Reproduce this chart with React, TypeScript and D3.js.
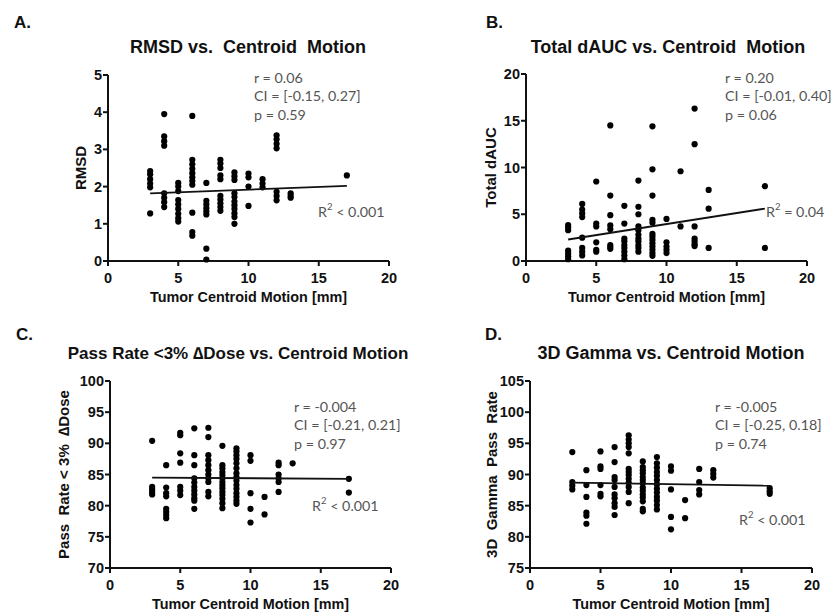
import React from "react";
import * as d3 from "d3";

// ---------- DATA ----------
const motionMm = [3, 4, 5, 6, 7, 8, 9, 10, 11, 12, 13, 17];
const xTicks = [0, 5, 10, 15, 20];

const rmsdValues: number[][] = [
  [2.42, 2.33, 2.2, 2.08, 1.98, 1.28],
  [3.95, 3.35, 3.22, 3.1, 1.82, 1.7, 1.58, 1.45],
  [2.1, 2.0, 1.88, 1.64, 1.52, 1.4, 1.27, 1.15, 1.06],
  [3.9, 2.72, 2.6, 2.48, 2.36, 2.25, 2.15, 2.05, 1.3, 0.78, 0.68],
  [2.1, 1.62, 1.52, 1.42, 1.33, 1.25, 0.33, 0.04],
  [2.72, 2.62, 2.5, 2.3, 2.2, 1.75, 1.65, 1.55, 1.45, 1.35],
  [2.38, 2.28, 2.18, 1.82, 1.72, 1.6, 1.5, 1.4, 1.28, 1.18, 1.0],
  [2.35, 2.25, 2.0, 1.48],
  [2.2, 2.08, 1.98],
  [3.38, 3.27, 3.15, 3.03, 1.86, 1.75, 1.63],
  [1.82, 1.75, 1.7],
  [2.3],
];
const rmsdTicks = [0, 1, 2, 3, 4, 5];
const rmsdFit = [1.82, 2.02];
const rmsdStats = ["r = 0.06", "CI = [-0.15, 0.27]", "p = 0.59"];

const dAucValues: number[][] = [
  [3.85, 3.6, 3.3, 1.1, 0.8, 0.5, 0.2],
  [6.1, 5.5, 5.1, 4.7, 2.5, 1.4, 1.0, 0.6],
  [8.5, 4.0, 3.7, 2.0, 1.2, 1.0],
  [14.5, 7.0, 4.9, 3.8, 3.4, 1.7, 1.5, 1.3],
  [5.9, 4.0, 2.4, 2.1, 1.7, 1.4, 1.0, 0.6, 0.2],
  [8.6, 5.8, 5.0, 3.7, 3.3, 2.8, 2.4, 2.1, 1.7, 1.4, 1.0],
  [14.4, 9.8, 7.0, 4.4, 4.1, 2.9, 2.6, 2.25, 1.9, 1.55, 1.2, 0.85, 0.55],
  [4.5, 2.0, 1.55, 1.2, 0.85],
  [9.6, 3.7],
  [16.3, 12.5, 3.7, 2.4, 2.1, 1.8, 1.6],
  [7.6, 5.6, 1.4],
  [8.0, 1.4],
];
const dAucTicks = [0, 5, 10, 15, 20];
const dAucFit = [2.3, 5.6];
const dAucStats = ["r = 0.20", "CI = [-0.01, 0.40]", "p = 0.06"];

const passValues: number[][] = [
  [90.4, 83.0, 82.6, 82.2, 81.8],
  [86.5, 82.9, 82.0, 81.5, 79.5, 79.0, 78.5, 78.0],
  [91.7, 91.3, 88.4, 86.9, 83.0, 82.4, 81.7],
  [92.4, 88.1, 86.5, 84.4, 83.7, 83.0, 82.4, 81.8, 81.2, 80.8, 79.5],
  [92.5, 91.0, 88.1, 87.3, 86.5, 85.7, 85.0, 84.4, 83.8, 82.2, 81.5],
  [89.6, 86.5, 86.0, 85.4, 84.9, 84.4, 83.8, 83.3, 82.8, 82.2, 81.7, 81.1, 80.4, 79.6],
  [89.2, 88.7, 88.1, 87.5, 86.8, 86.0, 85.2, 84.6, 84.0, 83.3, 82.7, 82.0, 81.4, 80.8, 80.3],
  [88.1, 87.2, 82.0, 79.5, 77.3],
  [81.4, 78.6],
  [86.9, 86.5, 85.0, 84.4, 83.8, 82.2],
  [86.8],
  [84.3, 82.1],
];
const passTicks = [70, 75, 80, 85, 90, 95, 100];
const passFit = [84.5, 84.3];
const passStats = ["r = -0.004", "CI = [-0.21, 0.21]", "p = 0.97"];

const gammaValues: number[][] = [
  [93.6, 88.8, 88.2, 87.6],
  [90.7, 88.3, 86.4, 83.9, 83.4, 82.1],
  [93.7, 91.3, 90.9, 88.3, 86.9, 86.5],
  [94.4, 92.0, 89.6, 89.1, 88.0, 86.8, 86.2, 85.4, 84.8, 83.5],
  [96.3, 95.6, 95.0, 94.4, 93.4, 90.9, 90.4, 89.9, 89.3, 88.7, 88.0, 87.2, 85.4],
  [92.1, 91.2, 90.7, 90.2, 89.6, 89.1, 88.6, 87.9, 87.4, 86.8, 86.3, 85.7, 84.5, 84.1],
  [92.8, 91.8, 91.1, 90.4, 89.8, 89.1, 88.4, 87.7, 87.1, 86.4, 85.8, 85.1, 84.4],
  [91.3, 90.6, 87.6, 83.2, 81.2],
  [85.9, 83.0],
  [90.9, 88.8, 87.5, 86.8],
  [90.7, 90.1, 89.5],
  [87.8, 87.3, 86.9],
];
const gammaTicks = [75, 80, 85, 90, 95, 100, 105];
const gammaFit = [88.7, 88.2];
const gammaStats = ["r = -0.005", "CI = [-0.25, 0.18]", "p = 0.74"];

const fitRange = [3, 17];

// ---------- RENDERING ----------
const BOLD = "'Liberation Sans', Arial, sans-serif";
const STAT = "Lato, 'Open Sans', sans-serif";

type PanelProps = {
  letter: string;
  letterX: number;
  letterY: number;
  title: string;
  titleX: number;
  titleY: number;
  titleSize: number;
  left: number;
  right: number;
  bottom: number;
  top: number;
  yTicks: number[];
  yLabel: string;
  yLabelX: number;
  values: number[][];
  fit: number[];
  stats: string[];
  statX: number;
  statY: number;
  r2: string;
  r2X: number;
  r2Y: number;
};

function Panel(p: PanelProps) {
  const xs = d3.scaleLinear().domain([xTicks[0], xTicks[xTicks.length - 1]]).range([p.left, p.right]);
  const ys = d3.scaleLinear().domain([p.yTicks[0], p.yTicks[p.yTicks.length - 1]]).range([p.bottom, p.top]);
  const line = d3.line<[number, number]>().x((d) => xs(d[0])).y((d) => ys(d[1]));
  const fitPts: [number, number][] = [
    [fitRange[0], p.fit[0]],
    [fitRange[1], p.fit[1]],
  ];
  const midY = (p.top + p.bottom) / 2;
  const midX = (p.left + p.right) / 2;
  return (
    <g>
      <text x={p.letterX} y={p.letterY} fontFamily={BOLD} fontWeight="bold" fontSize={17} fill="#111">
        {p.letter}
      </text>
      <text
        x={p.titleX}
        y={p.titleY}
        textAnchor="middle"
        dominantBaseline="central"
        fontFamily={BOLD}
        fontWeight="bold"
        fontSize={p.titleSize}
        fill="#111"
        style={{ whiteSpace: "pre" }}
      >
        {p.title}
      </text>
      {/* axes */}
      <line x1={p.left} x2={p.left} y1={p.top} y2={p.bottom} stroke="#111" strokeWidth={2} />
      <line x1={p.left} x2={p.right} y1={p.bottom} y2={p.bottom} stroke="#111" strokeWidth={2} />
      {p.yTicks.map((t) => (
        <g key={"y" + t}>
          <line x1={p.left - 5} x2={p.left} y1={ys(t)} y2={ys(t)} stroke="#111" strokeWidth={2} />
          <text
            x={p.left - 6}
            y={ys(t)}
            textAnchor="end"
            dominantBaseline="central"
            fontFamily={BOLD}
            fontWeight="bold"
            fontSize={14.5}
            fill="#111"
          >
            {t}
          </text>
        </g>
      ))}
      {xTicks.map((t) => (
        <g key={"x" + t}>
          <line x1={xs(t)} x2={xs(t)} y1={p.bottom} y2={p.bottom + 5} stroke="#111" strokeWidth={2} />
          <text
            x={xs(t)}
            y={p.bottom + 17}
            textAnchor="middle"
            dominantBaseline="central"
            fontFamily={BOLD}
            fontWeight="bold"
            fontSize={14.5}
            fill="#111"
          >
            {t}
          </text>
        </g>
      ))}
      <text
        x={midX}
        y={p.bottom + 36}
        textAnchor="middle"
        dominantBaseline="central"
        fontFamily={BOLD}
        fontWeight="bold"
        fontSize={14.4}
        fill="#111"
      >
        Tumor Centroid Motion [mm]
      </text>
      <text
        transform={`translate(${p.yLabelX},${midY}) rotate(-90)`}
        textAnchor="middle"
        dominantBaseline="central"
        fontFamily={BOLD}
        fontWeight="bold"
        fontSize={15}
        fill="#111"
        style={{ whiteSpace: "pre" }}
      >
        {p.yLabel}
      </text>
      {/* points */}
      {motionMm.map((m, i) =>
        p.values[i].map((v, j) => <circle key={i + "-" + j} cx={xs(m)} cy={ys(v)} r={3.1} fill="#000" />)
      )}
      <path d={line(fitPts) || ""} stroke="#111" strokeWidth={1.8} fill="none" />
      {p.stats.map((s, i) => (
        <text
          key={s}
          x={p.statX}
          y={p.statY + i * 18.5}
          dominantBaseline="central"
          fontFamily={STAT}
          fontSize={14.3}
          fill="#555"
        >
          {s}
        </text>
      ))}
      <text x={p.r2X} y={p.r2Y} dominantBaseline="central" fontFamily={STAT} fontSize={14.3} fill="#555">
        R
        <tspan fontSize={9.5} dy={-5}>
          2
        </tspan>
        <tspan dy={5}>{" " + p.r2}</tspan>
      </text>
    </g>
  );
}

export default function App() {
  return (
    <svg
      width={832}
      height={616}
      style={{ position: "absolute", left: 0, top: 0, background: "#fff" }}
    >
      <rect width={832} height={616} fill="#fff" />
      <Panel
        letter="A."
        letterX={14}
        letterY={28}
        title="RMSD vs.  Centroid  Motion"
        titleX={248}
        titleY={47}
        titleSize={18}
        left={108}
        right={389}
        bottom={261}
        top={75}
        yTicks={rmsdTicks}
        yLabel="RMSD"
        yLabelX={80}
        values={rmsdValues}
        fit={rmsdFit}
        stats={rmsdStats}
        statX={254}
        statY={77}
        r2="< 0.001"
        r2X={318}
        r2Y={211}
      />
      <Panel
        letter="B."
        letterX={486}
        letterY={28}
        title="Total dAUC vs. Centroid  Motion"
        titleX={668}
        titleY={47}
        titleSize={18}
        left={526}
        right={807}
        bottom={261}
        top={74}
        yTicks={dAucTicks}
        yLabel="Total dAUC"
        yLabelX={490}
        values={dAucValues}
        fit={dAucFit}
        stats={dAucStats}
        statX={725}
        statY={77}
        r2="= 0.04"
        r2X={766}
        r2Y={211}
      />
      <Panel
        letter="C."
        letterX={16}
        letterY={340}
        title="Pass Rate <3% ∆Dose vs. Centroid Motion"
        titleX={238}
        titleY={353}
        titleSize={17}
        left={110}
        right={391}
        bottom={568}
        top={381}
        yTicks={passTicks}
        yLabel="Pass  Rate < 3%  ∆Dose"
        yLabelX={63}
        values={passValues}
        fit={passFit}
        stats={passStats}
        statX={294}
        statY={406}
        r2="< 0.001"
        r2X={312}
        r2Y={505}
      />
      <Panel
        letter="D."
        letterX={485}
        letterY={340}
        title="3D Gamma vs. Centroid Motion"
        titleX={671}
        titleY={353}
        titleSize={18}
        left={530}
        right={812}
        bottom={568}
        top={381}
        yTicks={gammaTicks}
        yLabel="3D  Gamma  Pass  Rate"
        yLabelX={491}
        values={gammaValues}
        fit={gammaFit}
        stats={gammaStats}
        statX={715}
        statY={406}
        r2="< 0.001"
        r2X={739}
        r2Y={519}
      />
    </svg>
  );
}
